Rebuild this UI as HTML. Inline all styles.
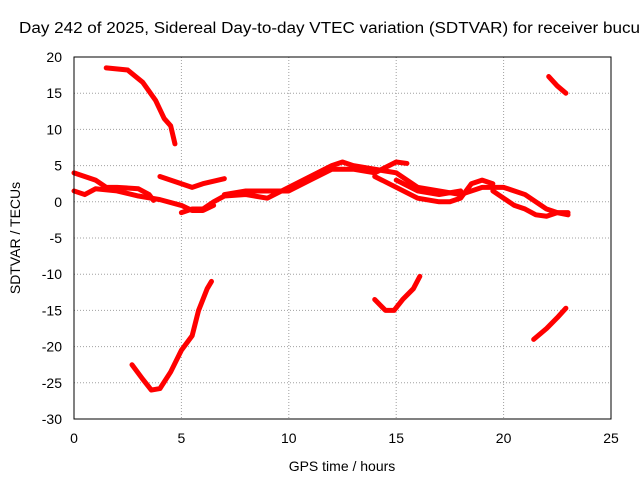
<!DOCTYPE html>
<html><head><meta charset="utf-8"><style>
body{margin:0;background:#fff;}
svg{display:block;font-family:"Liberation Sans",sans-serif;}
</style></head><body>
<svg id="chart" width="640" height="480">
<rect width="640" height="480" fill="#fff"/>
<text x="19" y="33" font-size="15.5" textLength="621" lengthAdjust="spacingAndGlyphs" fill="#000">Day 242 of 2025, Sidereal Day-to-day VTEC variation (SDTVAR) for receiver bucu</text>
<g id="grid"></g>
<g id="series"></g>
<rect x="74" y="57" width="537" height="362" fill="none" stroke="#000" stroke-width="1"/>
<g id="ticks"></g>
<text x="342" y="471" font-size="14" text-anchor="middle">GPS time / hours</text>
<text transform="translate(20,238) rotate(-90)" font-size="14" text-anchor="middle">SDTVAR / TECUs</text>
</svg>
<script>
const xTicks=[0,5,10,15,20,25];
const yTicks=[20,15,10,5,0,-5,-10,-15,-20,-25,-30];
const seg1=[[1.5,18.5],[2.5,18.2],[3.2,16.5],[3.8,14],[4.2,11.5],[4.5,10.5],[4.7,8]];
const seg2=[[2.7,-22.5],[3.2,-24.5],[3.6,-26],[4.0,-25.8],[4.5,-23.5],[5.0,-20.5],[5.5,-18.5],[5.8,-15],[6.2,-12],[6.4,-11]];
const seg3=[[14,-13.5],[14.5,-15],[14.9,-15],[15.3,-13.5],[15.8,-12],[16.1,-10.3]];
const seg4=[[21.4,-19],[22,-17.5],[22.5,-16],[22.9,-14.7]];
const seg5=[[22.1,17.3],[22.5,16],[22.9,15]];
const segA=[[0,4],[0.5,3.5],[1,3],[1.5,2],[2,2],[3,1.8],[3.5,1],[3.7,0.2]];
const segB=[[0,1.5],[0.5,1],[1,1.8],[2,1.5],[3,0.8],[4,0.3],[5,-0.5],[5.5,-1.2],[6,-1.2],[6.5,-0.5]];
const segC=[[4,3.5],[5,2.5],[5.5,2],[6,2.5],[7,3.2]];
const segD=[[5,-1.5],[5.5,-1],[6,-1],[6.5,0],[7,0.8],[8,1],[9,0.5],[10,2],[11,3.5],[12,5],[12.5,5.5],[13,5],[14,4.5],[15,4],[15.5,3],[16,2],[17,1.5],[18,1],[19,2],[20,2],[21,1],[22,-1],[22.5,-1.5],[23,-1.5]];
const segE=[[7,1],[8,1.5],[9,1.5],[10,1.5],[11,3],[12,4.5],[13,4.5],[14,4],[15,5.5],[15.5,5.3]];
const segF=[[14,3.5],[15,2],[16,0.5],[17,0],[17.5,0],[18,0.5],[18.5,2.5],[19,3],[19.5,2.5]];
const segG=[[19.5,1.5],[20,0.5],[20.5,-0.5],[21,-1],[21.5,-1.8],[22,-2],[22.5,-1.5],[23,-1.8]];
const segH=[[15,3],[16,1.5],[17,1],[18,1.5]];
const allSegs=[seg1,seg2,seg3,seg4,seg5,segA,segB,segC,segD,segE,segF,segG,segH];
const NS="http://www.w3.org/2000/svg";
const X=v=>74+v*(537/25);
const Y=v=>57+(20-v)*(362/50);
const grid=document.getElementById('grid'),ticks=document.getElementById('ticks'),ser=document.getElementById('series');
function mk(tag,attrs,parent){const e=document.createElementNS(NS,tag);for(const k in attrs)e.setAttribute(k,attrs[k]);parent.appendChild(e);return e;}
xTicks.forEach(t=>{
 if(t>0&&t<25){const g=mk('line',{x1:X(t),x2:X(t),y1:57,y2:419,stroke:'#a0a0a0','stroke-dasharray':'1,2'},grid);
 
 }
 const l=mk('text',{x:X(t),y:443,'font-size':14,'text-anchor':'middle'},ticks);l.textContent=t;
 
 
});
yTicks.forEach(t=>{
 if(t<20&&t>-30){const g=mk('line',{x1:74,x2:611,y1:Y(t),y2:Y(t),stroke:'#a0a0a0','stroke-dasharray':'1,2'},grid);
 
 }
 const l=mk('text',{x:62,y:Y(t)+5,'font-size':14,'text-anchor':'end'},ticks);l.textContent=t;
 
 
});
allSegs.forEach(s=>{
 const p=mk('polyline',{points:s.map(d=>X(d[0])+','+Y(d[1])).join(' '),fill:'none',stroke:'#f00','stroke-width':5,'stroke-linejoin':'round','stroke-linecap':'round'},ser);
 
 
});
</script>
</body></html>
